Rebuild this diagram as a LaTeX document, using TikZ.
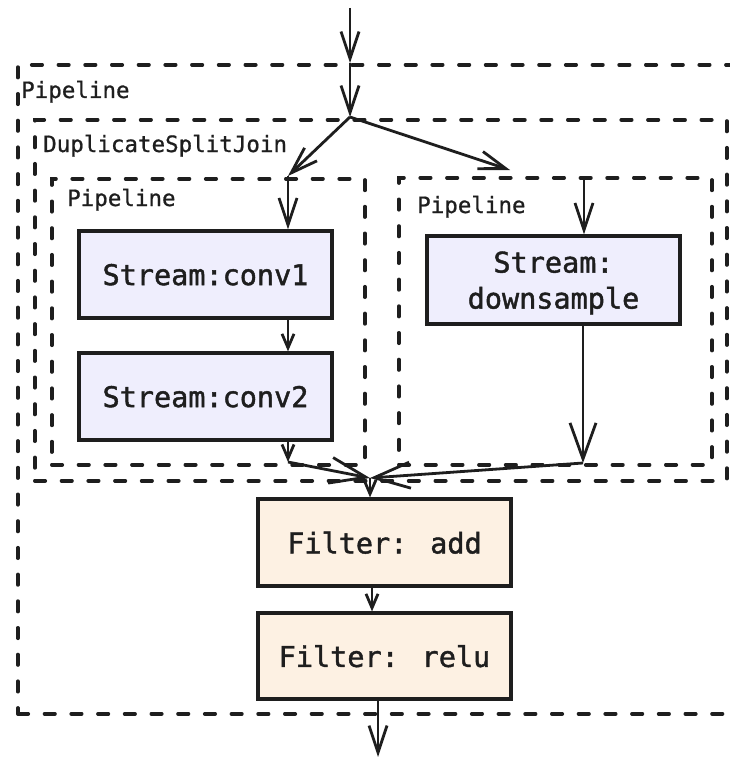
\documentclass[tikz,border=0pt]{standalone}
\usepackage{fontspec}
\setmonofont{DejaVu Sans Mono}
\newfontfamily\opfont{DejaVu Sans Mono}[FakeBold=1.5]
\newfontfamily\lblfont{DejaVu Sans Mono}[FakeBold=0.8]
\usetikzlibrary{arrows.meta}
\definecolor{inkc}{HTML}{1E1E1E}
\definecolor{streamfill}{HTML}{EFEEFD}
\definecolor{filterfill}{HTML}{FDF1E3}
\tikzset{
  cluster/.style={draw=inkc, line width=3.6pt, dash pattern=on 10.5pt off 16.2pt,
    line cap=round, rectangle, anchor=north west, inner sep=0pt},
  clusterlabel/.style={anchor=base west, inner sep=0pt, text=inkc,
    font=\lblfont\fontsize{22.5}{27}\selectfont},
  opbox/.style={draw=inkc, line width=3.2pt, rectangle, minimum width=253pt,
    align=center, text=inkc, text depth=0pt,
    font=\opfont\fontsize{28.5}{36}\selectfont},
  streambox/.style={opbox, fill=streamfill},
  filterbox/.style={opbox, fill=filterfill},
  flow/.style={draw=inkc, line width=2.8pt,
    -{Straight Barb[length=27pt,width=18pt,line width=2.8pt]}},
  flowwide/.style={draw=inkc, line width=2.8pt,
    -{Straight Barb[length=36pt,width=26pt,line width=2.8pt]}},
  flowshort/.style={draw=inkc, line width=2.8pt,
    -{Straight Barb[length=14pt,width=12pt,line width=2.8pt]}},
}
\begin{document}
\begin{tikzpicture}[x=1pt,y=-1pt]
\useasboundingbox (0,0) rectangle (730,757);

% nested clusters
\node[cluster, minimum width=729pt, minimum height=649pt] (outer) at (16,63) {};
\node[cluster, minimum width=692pt, minimum height=361pt] (dsj) at (33,118) {};
\node[cluster, minimum width=313pt, minimum height=286pt] (lpipe) at (50,177) {};
\node[cluster, minimum width=313pt, minimum height=287pt] (rpipe) at (397,176) {};

\node[clusterlabel] (outerlbl) at (21,98) {Pipeline};
\node[clusterlabel] (dsjlbl) at (43,152) {DuplicateSplitJoin};
\node[clusterlabel] (llbl) at (67,206) {Pipeline};
\node[clusterlabel] (rlbl) at (417,213) {Pipeline};

% operator boxes
\node[streambox, minimum height=87pt] (conv1) at (205.5,274.5) {Stream:conv1};
\node[streambox, minimum height=87pt] (conv2) at (205.5,396.5) {Stream:conv2};
\node[streambox, minimum height=88pt] (down) at (553.5,280) {Stream:\\downsample};
\node[filterbox, minimum height=87pt] (add) at (384.5,542.5) {Filter: add};
\node[filterbox, minimum height=86pt] (relu) at (384.5,656) {Filter: relu};

% routing points
\coordinate (src) at (350,8);
\coordinate (entry) at (350,63);
\coordinate (split) at (350,117);
\coordinate (lin) at (288,176);
\coordinate (rhint) at (510,170);
\coordinate (rin) at (584,176);
\coordinate (lout) at (288,462);
\coordinate (rout) at (583,463);
\coordinate (join) at (370,478);
\coordinate (addrelu) at (372,0);
\coordinate (sink) at (378,757);

% connectors
\draw[flow] (src) -- (entry);
\draw[flow] (entry) -- (split);
\draw[flow] (split) -- (lin);
\draw[flow] (split) -- (rhint);
\draw[flow] (lin) -- (lin |- conv1.north);
\draw[flow] (rin) -- (rin |- down.north);
\draw[flowshort] (conv1.south -| lin) -- (conv2.north -| lin);
\draw[flowshort] (conv2.south -| lin) -- (lout);
\draw[flowwide] (down.south -| rout) -- (rout);
\draw[flowwide] (lout) -- (join);
\draw[flowwide] (rout) -- (join);
\draw[flowshort] (join) -- (join |- add.north);
\draw[flowshort] (add.south -| addrelu) -- (relu.north -| addrelu);
\draw[flow] (relu.south -| sink) -- (sink);
\end{tikzpicture}
\end{document}
